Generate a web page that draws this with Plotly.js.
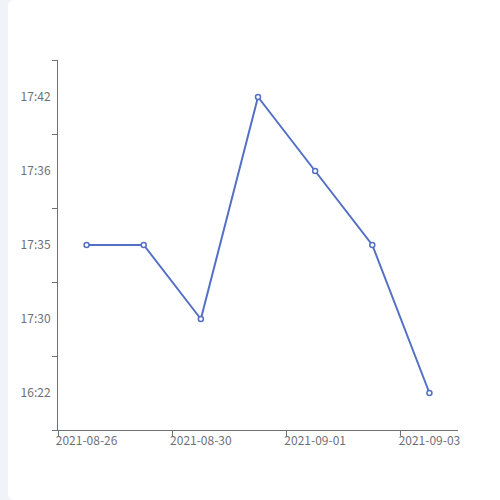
<!DOCTYPE html>
<html>
<head>
<meta charset="utf-8">
<script src="https://cdn.plot.ly/plotly-3.0.1.min.js"></script>
<style>
html,body{margin:0;padding:0;background:#f2f3f8;}
#wrap{position:absolute;left:8px;top:0;width:492px;height:500px;background:#fff;border-radius:6px 0 0 6px;}
#chart{width:492px;height:500px;}
</style>
</head>
<body>
<div id="wrap"><div id="chart"></div></div>
<script>
const dates = ["2021-08-26","2021-08-27","2021-08-30","2021-08-31","2021-09-01","2021-09-02","2021-09-03"];
const times = ["17:35","17:35","17:30","17:42","17:36","17:35","16:22"];
const timeCategories = ["16:22","17:30","17:35","17:36","17:42"];

const lineColor = "#5470c6";
const axisColor = "#6e7079";

const trace = {
  x: dates,
  y: times,
  type: "scatter",
  mode: "lines+markers",
  line: {color: lineColor, width: 2},
  marker: {symbol: "circle", size: 5, color: "#fff", line: {color: lineColor, width: 1.5}},
  hoverinfo: "x+y"
};

const layout = {
  width: 492, height: 500,
  margin: {l: 50, r: 42, t: 60, b: 70},
  paper_bgcolor: "rgba(0,0,0,0)",
  plot_bgcolor: "rgba(0,0,0,0)",
  showlegend: false,
  font: {family: "Noto Sans CJK SC, Noto Sans, sans-serif", size: 12, color: axisColor},
  xaxis: {
    type: "category",
    categoryorder: "array",
    categoryarray: dates,
    range: [-0.5, dates.length - 0.5],
    tickmode: "linear", tick0: 0, dtick: 2,
    tickson: "boundaries",
    tickangle: 0,
    ticks: "outside", ticklen: 5, tickcolor: axisColor, tickwidth: 1,
    showline: true, linecolor: axisColor, linewidth: 1,
    showgrid: false, zeroline: false,
    tickfont: {size: 12, color: axisColor},
    fixedrange: true
  },
  yaxis: {
    type: "category",
    categoryorder: "array",
    categoryarray: timeCategories,
    range: [-0.5, timeCategories.length - 0.5],
    tickson: "boundaries",
    ticks: "outside", ticklen: 5, tickcolor: axisColor, tickwidth: 1,
    showline: true, linecolor: axisColor, linewidth: 1,
    showgrid: false, zeroline: false,
    ticklabelstandoff: 4,
    tickfont: {size: 12, color: axisColor},
    fixedrange: true
  }
};

Plotly.newPlot("chart", [trace], layout, {displayModeBar: false, staticPlot: true});
</script>
</body>
</html>
